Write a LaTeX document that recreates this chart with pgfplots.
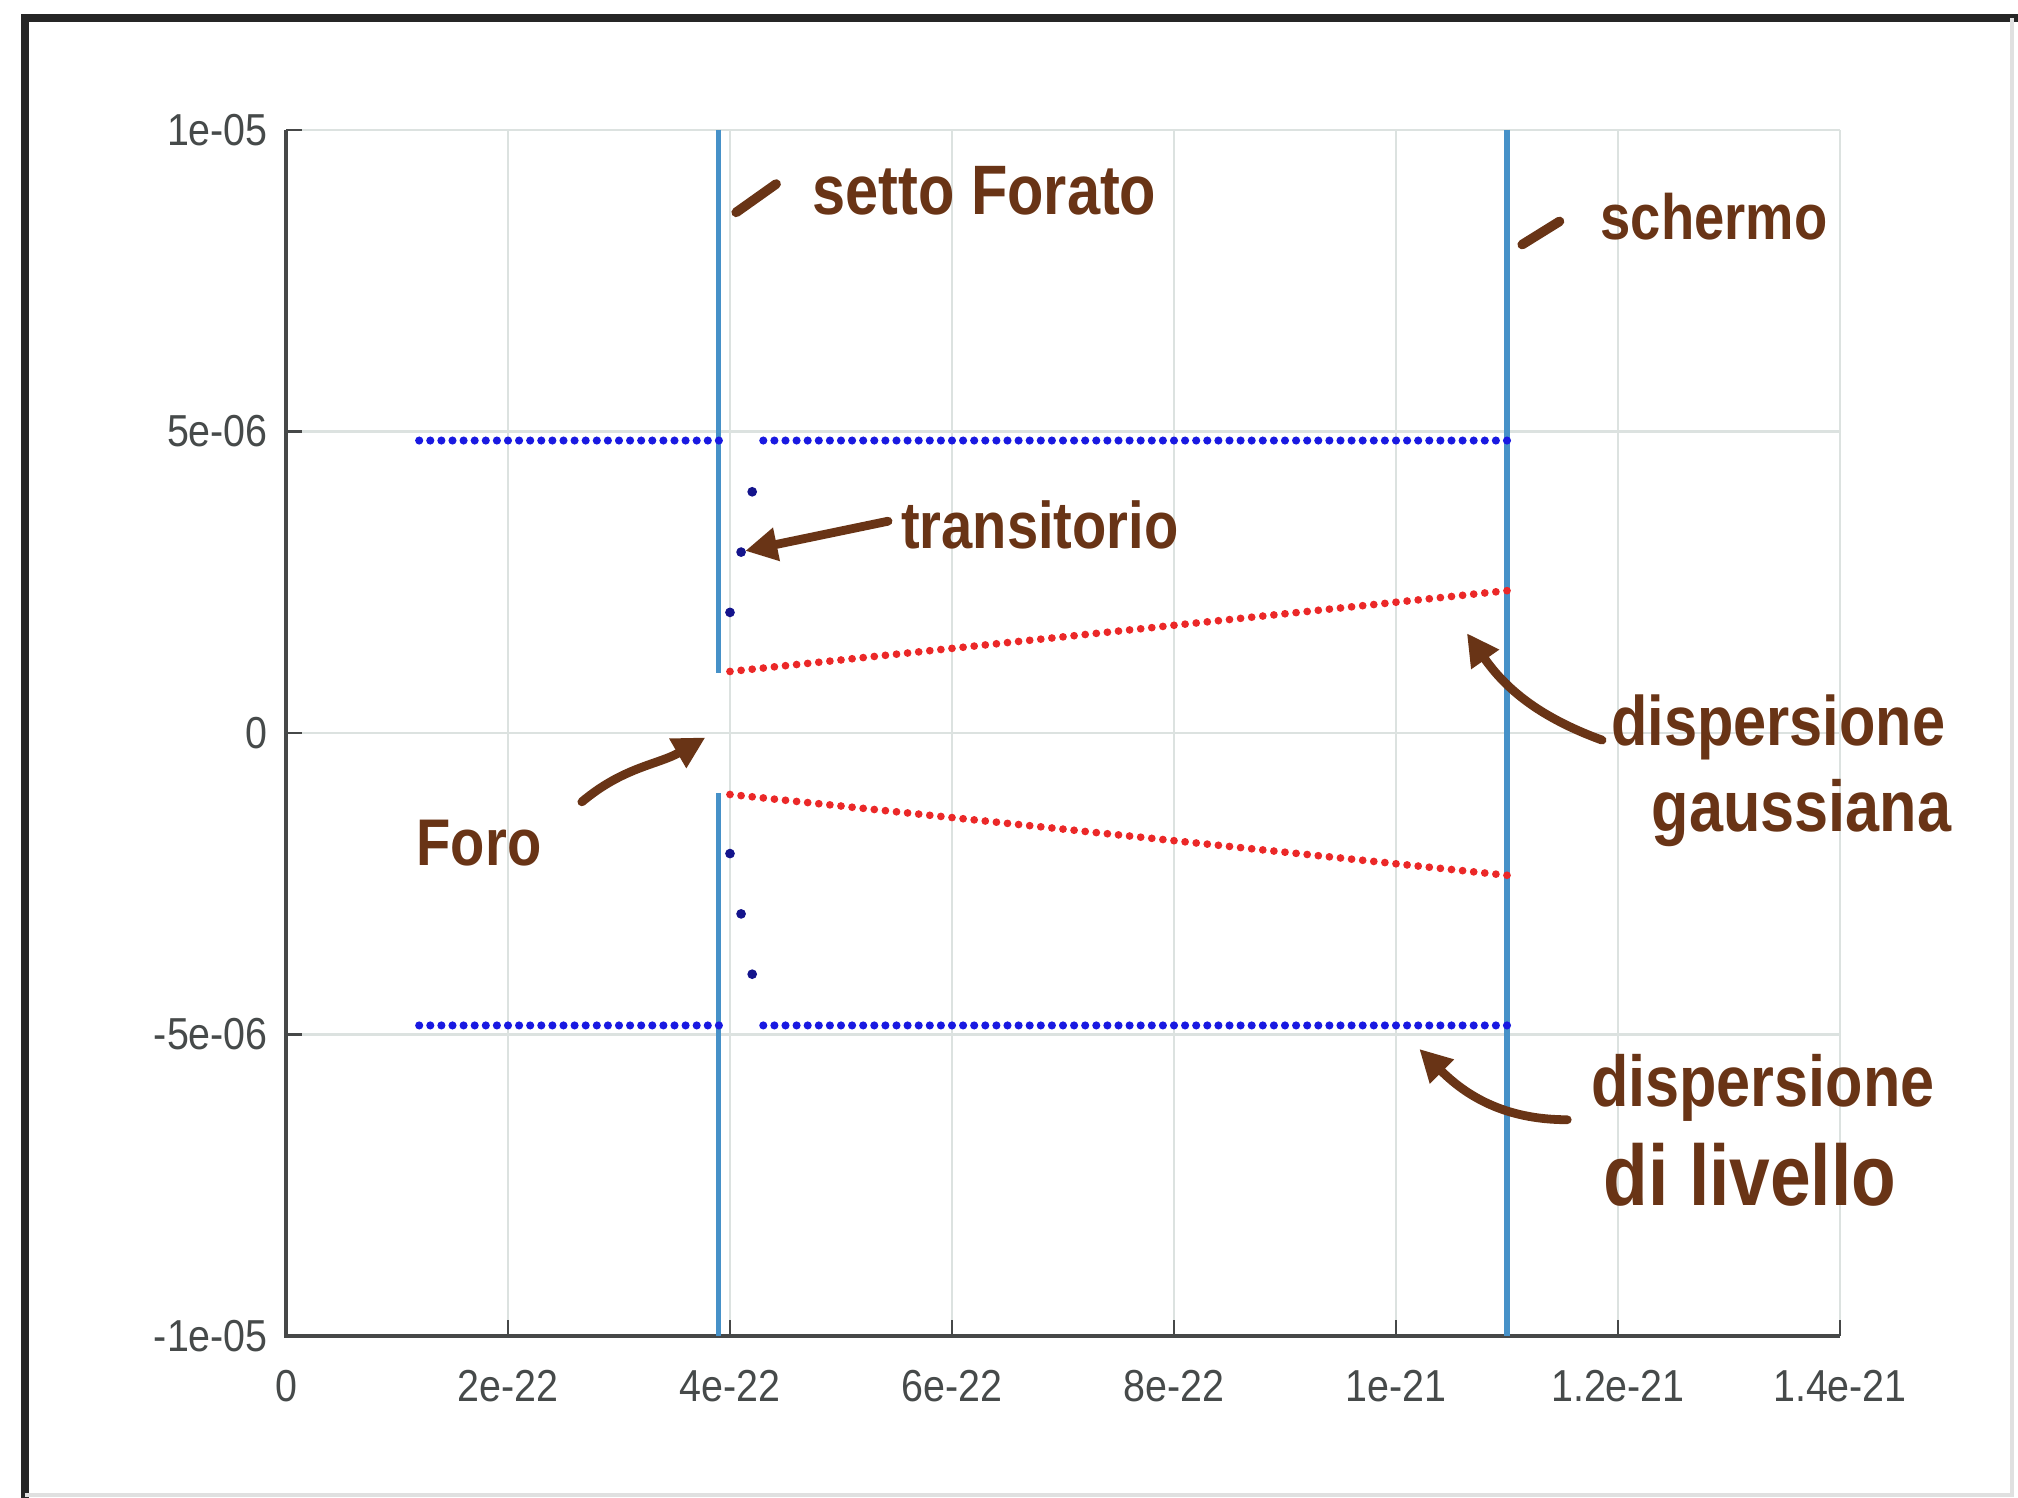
\documentclass[border=0pt]{standalone}
\usepackage{pgfplots}
\pgfplotsset{compat=1.18}
\usepackage{pgfplotstable}
\usepackage{fontspec}
\setmainfont{Liberation Sans}
\newfontfamily\tickfont{Liberation Sans}[FakeStretch=0.88]
\newfontfamily\handfont{Liberation Sans}[FakeStretch=0.85]
\usetikzlibrary{arrows.meta}

\definecolor{ink}{RGB}{105,52,22}
\definecolor{gridc}{RGB}{220,226,224}
\definecolor{axc}{RGB}{70,72,72}
\definecolor{tickc}{RGB}{70,74,74}
\definecolor{vlc}{RGB}{70,145,200}
\definecolor{bdot}{RGB}{25,25,225}
\definecolor{rdot}{RGB}{235,40,40}
\definecolor{tdot}{RGB}{20,20,140}

% livello (blue) points: x  up  lo
\pgfplotstableread{
x up lo
12e-23 4.85e-6 -4.85e-6
13e-23 4.85e-6 -4.85e-6
14e-23 4.85e-6 -4.85e-6
15e-23 4.85e-6 -4.85e-6
16e-23 4.85e-6 -4.85e-6
17e-23 4.85e-6 -4.85e-6
18e-23 4.85e-6 -4.85e-6
19e-23 4.85e-6 -4.85e-6
20e-23 4.85e-6 -4.85e-6
21e-23 4.85e-6 -4.85e-6
22e-23 4.85e-6 -4.85e-6
23e-23 4.85e-6 -4.85e-6
24e-23 4.85e-6 -4.85e-6
25e-23 4.85e-6 -4.85e-6
26e-23 4.85e-6 -4.85e-6
27e-23 4.85e-6 -4.85e-6
28e-23 4.85e-6 -4.85e-6
29e-23 4.85e-6 -4.85e-6
30e-23 4.85e-6 -4.85e-6
31e-23 4.85e-6 -4.85e-6
32e-23 4.85e-6 -4.85e-6
33e-23 4.85e-6 -4.85e-6
34e-23 4.85e-6 -4.85e-6
35e-23 4.85e-6 -4.85e-6
36e-23 4.85e-6 -4.85e-6
37e-23 4.85e-6 -4.85e-6
38e-23 4.85e-6 -4.85e-6
39e-23 4.85e-6 -4.85e-6
43e-23 4.85e-6 -4.85e-6
44e-23 4.85e-6 -4.85e-6
45e-23 4.85e-6 -4.85e-6
46e-23 4.85e-6 -4.85e-6
47e-23 4.85e-6 -4.85e-6
48e-23 4.85e-6 -4.85e-6
49e-23 4.85e-6 -4.85e-6
50e-23 4.85e-6 -4.85e-6
51e-23 4.85e-6 -4.85e-6
52e-23 4.85e-6 -4.85e-6
53e-23 4.85e-6 -4.85e-6
54e-23 4.85e-6 -4.85e-6
55e-23 4.85e-6 -4.85e-6
56e-23 4.85e-6 -4.85e-6
57e-23 4.85e-6 -4.85e-6
58e-23 4.85e-6 -4.85e-6
59e-23 4.85e-6 -4.85e-6
60e-23 4.85e-6 -4.85e-6
61e-23 4.85e-6 -4.85e-6
62e-23 4.85e-6 -4.85e-6
63e-23 4.85e-6 -4.85e-6
64e-23 4.85e-6 -4.85e-6
65e-23 4.85e-6 -4.85e-6
66e-23 4.85e-6 -4.85e-6
67e-23 4.85e-6 -4.85e-6
68e-23 4.85e-6 -4.85e-6
69e-23 4.85e-6 -4.85e-6
70e-23 4.85e-6 -4.85e-6
71e-23 4.85e-6 -4.85e-6
72e-23 4.85e-6 -4.85e-6
73e-23 4.85e-6 -4.85e-6
74e-23 4.85e-6 -4.85e-6
75e-23 4.85e-6 -4.85e-6
76e-23 4.85e-6 -4.85e-6
77e-23 4.85e-6 -4.85e-6
78e-23 4.85e-6 -4.85e-6
79e-23 4.85e-6 -4.85e-6
80e-23 4.85e-6 -4.85e-6
81e-23 4.85e-6 -4.85e-6
82e-23 4.85e-6 -4.85e-6
83e-23 4.85e-6 -4.85e-6
84e-23 4.85e-6 -4.85e-6
85e-23 4.85e-6 -4.85e-6
86e-23 4.85e-6 -4.85e-6
87e-23 4.85e-6 -4.85e-6
88e-23 4.85e-6 -4.85e-6
89e-23 4.85e-6 -4.85e-6
90e-23 4.85e-6 -4.85e-6
91e-23 4.85e-6 -4.85e-6
92e-23 4.85e-6 -4.85e-6
93e-23 4.85e-6 -4.85e-6
94e-23 4.85e-6 -4.85e-6
95e-23 4.85e-6 -4.85e-6
96e-23 4.85e-6 -4.85e-6
97e-23 4.85e-6 -4.85e-6
98e-23 4.85e-6 -4.85e-6
99e-23 4.85e-6 -4.85e-6
100e-23 4.85e-6 -4.85e-6
101e-23 4.85e-6 -4.85e-6
102e-23 4.85e-6 -4.85e-6
103e-23 4.85e-6 -4.85e-6
104e-23 4.85e-6 -4.85e-6
105e-23 4.85e-6 -4.85e-6
106e-23 4.85e-6 -4.85e-6
107e-23 4.85e-6 -4.85e-6
108e-23 4.85e-6 -4.85e-6
109e-23 4.85e-6 -4.85e-6
110e-23 4.85e-6 -4.85e-6
}\livello

% gaussiana (red) points
\pgfplotstableread{
x up lo
40e-23 1.020e-6 -1.020e-6
41e-23 1.039e-6 -1.039e-6
42e-23 1.058e-6 -1.058e-6
43e-23 1.077e-6 -1.077e-6
44e-23 1.097e-6 -1.097e-6
45e-23 1.116e-6 -1.116e-6
46e-23 1.135e-6 -1.135e-6
47e-23 1.154e-6 -1.154e-6
48e-23 1.173e-6 -1.173e-6
49e-23 1.192e-6 -1.192e-6
50e-23 1.211e-6 -1.211e-6
51e-23 1.231e-6 -1.231e-6
52e-23 1.250e-6 -1.250e-6
53e-23 1.269e-6 -1.269e-6
54e-23 1.288e-6 -1.288e-6
55e-23 1.307e-6 -1.307e-6
56e-23 1.326e-6 -1.326e-6
57e-23 1.345e-6 -1.345e-6
58e-23 1.365e-6 -1.365e-6
59e-23 1.384e-6 -1.384e-6
60e-23 1.403e-6 -1.403e-6
61e-23 1.422e-6 -1.422e-6
62e-23 1.441e-6 -1.441e-6
63e-23 1.460e-6 -1.460e-6
64e-23 1.479e-6 -1.479e-6
65e-23 1.499e-6 -1.499e-6
66e-23 1.518e-6 -1.518e-6
67e-23 1.537e-6 -1.537e-6
68e-23 1.556e-6 -1.556e-6
69e-23 1.575e-6 -1.575e-6
70e-23 1.594e-6 -1.594e-6
71e-23 1.613e-6 -1.613e-6
72e-23 1.633e-6 -1.633e-6
73e-23 1.652e-6 -1.652e-6
74e-23 1.671e-6 -1.671e-6
75e-23 1.690e-6 -1.690e-6
76e-23 1.709e-6 -1.709e-6
77e-23 1.728e-6 -1.728e-6
78e-23 1.747e-6 -1.747e-6
79e-23 1.767e-6 -1.767e-6
80e-23 1.786e-6 -1.786e-6
81e-23 1.805e-6 -1.805e-6
82e-23 1.824e-6 -1.824e-6
83e-23 1.843e-6 -1.843e-6
84e-23 1.862e-6 -1.862e-6
85e-23 1.881e-6 -1.881e-6
86e-23 1.901e-6 -1.901e-6
87e-23 1.920e-6 -1.920e-6
88e-23 1.939e-6 -1.939e-6
89e-23 1.958e-6 -1.958e-6
90e-23 1.977e-6 -1.977e-6
91e-23 1.996e-6 -1.996e-6
92e-23 2.015e-6 -2.015e-6
93e-23 2.035e-6 -2.035e-6
94e-23 2.054e-6 -2.054e-6
95e-23 2.073e-6 -2.073e-6
96e-23 2.092e-6 -2.092e-6
97e-23 2.111e-6 -2.111e-6
98e-23 2.130e-6 -2.130e-6
99e-23 2.149e-6 -2.149e-6
100e-23 2.169e-6 -2.169e-6
101e-23 2.188e-6 -2.188e-6
102e-23 2.207e-6 -2.207e-6
103e-23 2.226e-6 -2.226e-6
104e-23 2.245e-6 -2.245e-6
105e-23 2.264e-6 -2.264e-6
106e-23 2.283e-6 -2.283e-6
107e-23 2.303e-6 -2.303e-6
108e-23 2.322e-6 -2.322e-6
109e-23 2.341e-6 -2.341e-6
110e-23 2.360e-6 -2.360e-6
}\gauss

% transient points
\pgfplotstableread{
x y
4.0e-22 2.0e-6
4.1e-22 3.0e-6
4.2e-22 4.0e-6
4.0e-22 -2.0e-6
4.1e-22 -3.0e-6
4.2e-22 -4.0e-6
}\trans

\begin{document}
\begin{tikzpicture}
\useasboundingbox (-71.5pt,-40.5pt) rectangle (433pt,334pt);
% photo frame
\draw[black!85, line width=1.8pt] (-65.25pt,-45pt) -- (-65.25pt,329.5pt) -- (440pt,329.5pt);
\draw[black!12, line width=0.8pt] (-65.25pt,-39.75pt) -- (431.5pt,-39.75pt) -- (431.5pt,329.5pt);
\begin{axis}[
  scale only axis, width=388.5pt, height=301.5pt,
  xmin=0, xmax=1.4e-21, ymin=-1e-5, ymax=1e-5,
  xtick={0,2e-22,4e-22,6e-22,8e-22,1e-21,1.2e-21,1.4e-21},
  xticklabels={0,2e-22,4e-22,6e-22,8e-22,1e-21,1.2e-21,1.4e-21},
  ytick={-1e-5,-5e-6,0,5e-6,1e-5},
  yticklabels={-1e-05,-5e-06,0,5e-06,1e-05},
  scaled ticks=false,
  grid=major, major grid style={gridc, line width=0.7pt},
  tick pos=left, tick align=inside, major tick length=4pt,
  tick style={axc, line width=0.7pt},
  axis line style={draw=none},
  ticklabel style={font=\tickfont\fontsize{11.2}{12}\selectfont, text=tickc},
  xticklabel style={yshift=-5pt},
  yticklabel style={xshift=-1pt},
  clip=false,
]
\draw[axc, line width=0.9pt] (axis description cs:0,1) -- (axis description cs:0,0) -- (axis description cs:1,0);

% vertical lines: setto forato and schermo
\addplot[vlc, line width=1.3pt, no marks] coordinates {(3.9e-22,1e-5) (3.9e-22,1.0e-6)};
\addplot[vlc, line width=1.3pt, no marks] coordinates {(3.9e-22,-1.0e-6) (3.9e-22,-1e-5)};
\addplot[vlc, line width=1.3pt, no marks] coordinates {(1.1e-21,1e-5) (1.1e-21,-1e-5)};

% data
\addplot[only marks, mark=*, mark size=0.8pt, bdot, mark options={draw=bdot, fill=bdot}] table[x=x, y=up] {\livello};
\addplot[only marks, mark=*, mark size=0.8pt, bdot, mark options={draw=bdot, fill=bdot}] table[x=x, y=lo] {\livello};
\addplot[only marks, mark=*, mark size=0.75pt, rdot, mark options={draw=rdot, fill=rdot}] table[x=x, y=up] {\gauss};
\addplot[only marks, mark=*, mark size=0.75pt, rdot, mark options={draw=rdot, fill=rdot}] table[x=x, y=lo] {\gauss};
\addplot[only marks, mark=*, mark size=1pt, tdot, mark options={draw=tdot, fill=tdot}] table[x=x, y=y] {\trans};

% handwritten annotations
\tikzset{hand/.style={ink, font=\handfont\bfseries\fontsize{17}{17}\selectfont, inner sep=0pt},
         harrow/.style={ink, line width=2.2pt, line cap=round, -{Triangle[length=8pt,width=8pt]}},
         hline/.style={ink, line width=2.4pt, line cap=round}}
\draw[hline] (axis description cs:0.2897,0.9317) -- (axis description cs:0.3154,0.9552);
\node[hand, font=\handfont\bfseries\fontsize{17.5}{17}\selectfont] at (axis description cs:0.4495,0.9498) {setto Forato};
\draw[hline] (axis description cs:0.7955,0.905) -- (axis description cs:0.8195,0.9242);
\node[hand, font=\handfont\bfseries\fontsize{16}{16}\selectfont] at (axis description cs:0.9189,0.9285) {schermo};
\draw[harrow] (axis description cs:0.3874,0.6756) -- (axis description cs:0.2955,0.6510);
\node[hand, font=\handfont\bfseries\fontsize{16.5}{16}\selectfont] at (axis description cs:0.4851,0.6724) {transitorio};
\node[hand, font=\handfont\bfseries\fontsize{16.5}{17}\selectfont] at (axis description cs:0.1242,0.4088) {Foro};
\draw[harrow] (axis description cs:0.1904,0.4429) to[out=40,in=-150] (axis description cs:0.2699,0.4963);
\node[hand, font=\handfont\bfseries\fontsize{17.5}{17}\selectfont] at (axis description cs:0.9603,0.5048) {dispersione};
\node[hand, font=\handfont\bfseries\fontsize{18}{18}\selectfont] at (axis description cs:0.9752,0.4333) {gaussiana};
\draw[harrow] (axis description cs:0.8469,0.4941) to[out=160,in=-55] (axis description cs:0.7599,0.5827);
\node[hand, font=\handfont\bfseries\fontsize{18}{17}\selectfont] at (axis description cs:0.9503,0.2060) {dispersione};
\node[hand, font=\handfont\bfseries\fontsize{21.5}{19}\selectfont] at (axis description cs:0.9421,0.1334) {di livello};
\draw[harrow] (axis description cs:0.8245,0.1793) to[out=180,in=-45] (axis description cs:0.7293,0.2380);
\end{axis}
\end{tikzpicture}
\end{document}
